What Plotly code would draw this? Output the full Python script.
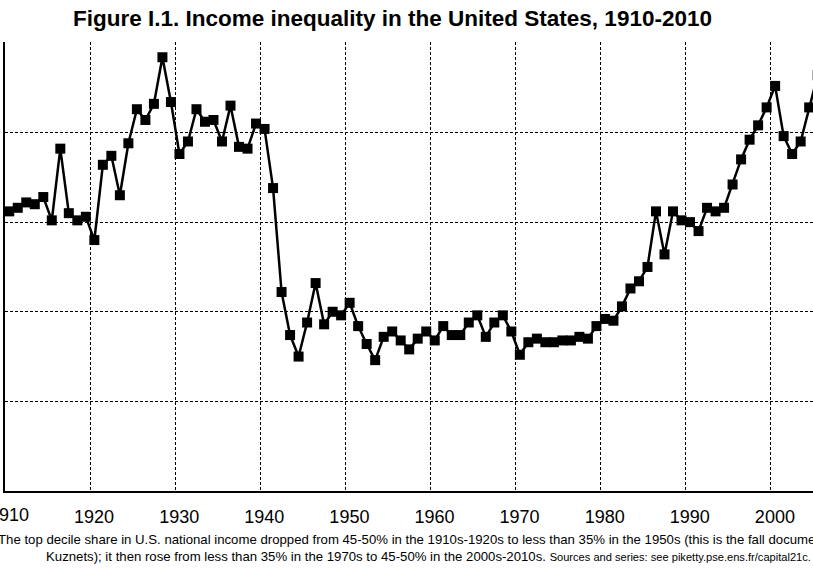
"""
Top decile income share in the United States, 1910-2010.

Line chart with square markers, redrawn after Piketty's Figure I.1.
"""

import plotly.graph_objects as go

# Years (categories) and top decile share of national income (%)
years = list(range(1910, 2006))
top_decile_share = [
    40.6, 40.8, 41.1, 41.0, 41.4, 40.1, 44.1, 40.5, 40.1, 40.3,  # 1910s
    39.0, 43.2, 43.7, 41.5, 44.4, 46.3, 45.7, 46.6, 49.2, 46.7,  # 1920s
    43.8, 44.5, 46.3, 45.6, 45.7, 44.5, 46.5, 44.2, 44.1, 45.5,  # 1930s
    45.2, 41.9, 36.1, 33.7, 32.5, 34.4, 36.6, 34.3, 35.0, 34.8,  # 1940s
    35.5, 34.2, 33.2, 32.3, 33.6, 33.9, 33.4, 32.9, 33.5, 33.9,  # 1950s
    33.4, 34.2, 33.7, 33.7, 34.4, 34.8, 33.6, 34.4, 34.8, 33.9,  # 1960s
    32.6, 33.3, 33.5, 33.3, 33.3, 33.4, 33.4, 33.6, 33.5, 34.2,  # 1970s
    34.6, 34.5, 35.3, 36.3, 36.7, 37.5, 40.6, 38.2, 40.6, 40.1,  # 1980s
    40.0, 39.5, 40.8, 40.6, 40.8, 42.1, 43.5, 44.6, 45.4, 46.4,  # 1990s
    47.6, 44.8, 43.8, 44.5, 46.4, 48.2,                          # 2000s
]

decades = [1910, 1920, 1930, 1940, 1950, 1960, 1970, 1980, 1990, 2000]
decade_labels = ['1910', '1920', '1930', '1940', '1950',
                 '1960', '1970', '1980', '1990', '2000']
share_ticks = [25, 30, 35, 40, 45, 50]

title_text = '<b>Figure I.1. Income inequality in the United States, 1910-2010</b>'
note_line_1 = ('The top decile share in U.S. national income dropped from 45-50% in the '
               '1910s-1920s to less than 35% in the 1950s (this is the fall documented by')
note_line_2 = ('Kuznets); it then rose from less than 35% in the 1970s to 45-50% in the '
               '2000s-2010s. <span style="font-size:11.1px">Sources and series: see '
               'piketty.pse.ens.fr/capital21c.</span>')

fig = go.Figure()

fig.add_trace(go.Scatter(
    x=years,
    y=top_decile_share,
    mode='lines+markers',
    line=dict(color='black', width=2.5),
    marker=dict(symbol='square', size=10, color='black'),
    showlegend=False,
))

# Excel style category axis: gridlines sit between years, labels in the middle
fig.update_layout(
    width=813,
    height=569,
    margin=dict(l=5, r=0, t=42, b=78),
    paper_bgcolor='white',
    plot_bgcolor='white',
    font=dict(family='Liberation Sans, Arial, sans-serif', color='black'),
    title=dict(
        text=title_text,
        font=dict(size=22.5, color='black'),
        x=0.4828,
        xanchor='center',
        xref='container',
        y=0.968,
        yanchor='middle',
        yref='container',
    ),
    xaxis=dict(
        range=[1909.5, 2004.45],
        tickmode='array',
        tickvals=[d - 0.5 for d in decades],
        ticktext=decade_labels,
        ticklabelshift=4,
        ticklabelstandoff=8,
        tickfont=dict(size=18),
        ticks='',
        showgrid=True,
        gridcolor='black',
        gridwidth=1,
        griddash='3px,2px',
        showline=True,
        linecolor='black',
        linewidth=2,
        zeroline=False,
    ),
    yaxis=dict(
        range=[25, 50.05],
        tickmode='array',
        tickvals=share_ticks,
        showticklabels=False,
        ticks='',
        showgrid=True,
        gridcolor='black',
        gridwidth=1,
        griddash='3px,2px',
        showline=True,
        linecolor='black',
        linewidth=2,
        zeroline=False,
    ),
)

# plotly hides the first tick label since it hangs past the page edge;
# put it back as an annotation so it is cut by the edge like the original
fig.add_annotation(
    text=decade_labels[0],
    x=decades[0],
    y=-0.054,
    xref='x',
    yref='paper',
    xanchor='center',
    yanchor='middle',
    showarrow=False,
    font=dict(size=18, color='black'),
)

# Two line note under the axis (cut off by the page edges like the original)
for text, ypos in [(note_line_1, -0.1077), (note_line_2, -0.1455)]:
    fig.add_annotation(
        text=text,
        x=0.524,
        y=ypos,
        xref='paper',
        yref='paper',
        xanchor='center',
        yanchor='middle',
        showarrow=False,
        font=dict(family='Liberation Sans, Arial, sans-serif', size=13.2, color='black'),
    )

# drop the default 8px page margin so the chart sits at the window corner
fig.write_html(
    'out.html',
    config={'displayModeBar': False},
    post_script="document.body.style.margin = '0px';",
)
